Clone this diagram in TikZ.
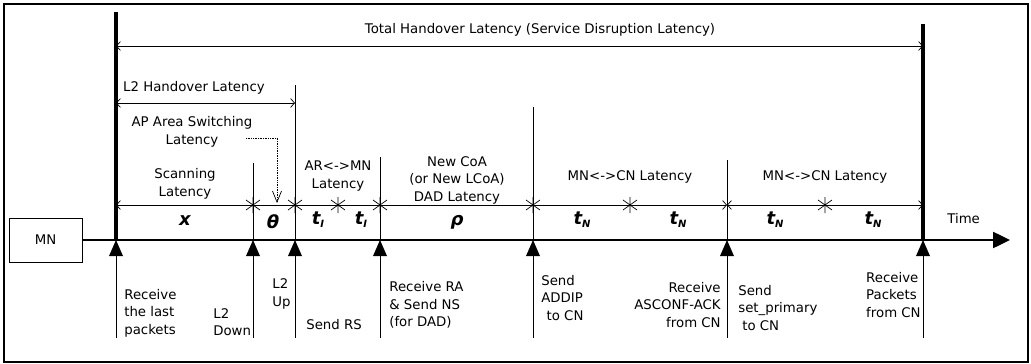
\documentclass[tikz,border=0pt]{standalone}
\usepackage{fontspec}
\setmainfont{DejaVu Sans}
\usetikzlibrary{arrows.meta}

% subscripted time variable
\newcommand{\tsub}[1]{t\raisebox{-3pt}{\fontsize{10}{10}\selectfont #1}}

\begin{document}
\begin{tikzpicture}[x=1pt,y=-1pt, line width=0.7pt,
  every node/.style={font=\fontsize{13.3}{17.5}\selectfont, inner sep=0pt},
  dim/.style={line width=0.7pt, {Straight Barb[length=4pt,width=9pt]}-{Straight Barb[length=4pt,width=9pt]}},
  var/.style={font=\fontsize{18}{18}\selectfont\bfseries\itshape},
  thickline/.style={line width=4pt}]
  \useasboundingbox (0,0) rectangle (1031,364);
  \draw[line width=1.2pt] (4,4) rectangle (1028,362);
  % MN box and the time axis
  \node[draw, line width=0.9pt, minimum width=73pt, minimum height=44pt] (mn) at (45.5,240) {MN};
  \coordinate (tend) at (1010,240);
  \draw[line width=2.5pt, -{Triangle[length=17pt,width=16pt]}] (mn.east) -- (tend);
  \node[anchor=west] (time) at (947,219) {Time};
  % events on the axis
  \foreach \n/\x in {a/116,b/253,c/295,d/380,e/533,f/727,g/923} {
    \coordinate (\n) at (\x,240);
    \coordinate (\n d) at (\x,205);
    \fill (\n) -- ++(-7,16) -- ++(14,0) -- cycle;
    \draw (\n) ++(0,16) -- ++(0,82);
  }
  \draw[thickline] (a) -- (a |- 0,12);
  \draw[thickline] (g) -- (g |- 0,24);
  \foreach \n/\y in {b/163,c/85,d/157,e/107,f/160} \draw (\n) -- (\n |- 0,\y);
  % latency row
  \draw[dim] (ad) -- (fd);
  \draw[dim] (fd) -- (gd);
  \foreach \p in {(bd),(cd),(dd),(ed),(338,205),(630,205),(825,205)}
    \draw \p ++(0,-8) -- ++(0,16) \p ++(-7,-5) -- ++(14,10) \p ++(-7,5) -- ++(14,-10);
  \node[var] (vx) at (185,221) {x};
  \node[var] (vth) at (273,222) {θ};
  \node[var] (vt1) at (318,220) {\tsub{I}};
  \node[var] (vt2) at (361,220) {\tsub{I}};
  \node[var] (vrho) at (457,222) {ρ};
  \foreach \x/\m in {582/n1,678/n2,775/n3,873/n4} \node[var] (\m) at (\x,220) {\tsub{N}};
  % latency names
  \node[align=center] (scan) at (185,184) {Scanning\\Latency};
  \node[align=center] (armn) at (338,176) {AR<->MN\\Latency};
  \node[align=center] (dad) at (457,180) {New CoA\\(or New LCoA)\\DAD Latency};
  \node (mncn1) at (630,177) {MN<->CN Latency};
  \node (mncn2) at (825,177) {MN<->CN Latency};
  \node[align=center] (apsw) at (192,132) {AP Area Switching\\Latency};
  \coordinate (apend) at (277,203);
  \draw[densely dotted, -{Straight Barb[length=11pt,width=9pt]}] (246,138) -| (apend);
  \node (l2h) at (194,88) {L2 Handover Latency};
  \draw[dim] (a |- 0,103) -- (c |- 0,103);
  \node (total) at (540,30) {Total Handover Latency (Service Disruption Latency)};
  \draw[dim] (a |- 0,46) -- (g |- 0,46);
  % event names
  \node[align=left, anchor=west] (ev1) at (124,313) {Receive\\the last\\packets};
  \node[align=left, anchor=west] (ev2) at (213,322) {L2\\Down};
  \node[align=left, anchor=east] (ev3) at (291,294) {L2\\Up};
  \node[anchor=west] (ev4) at (306,325) {Send RS};
  \node[align=left, anchor=west] (ev5) at (389,305) {Receive RA\\\& Send NS\\(for DAD)};
  \node[align=left, anchor=west] (ev6) at (541,298) {Send\\ADDIP\\\hspace*{0.4em}to CN};
  \node[align=right, anchor=east] (ev7) at (721,305) {Receive\\ASCONF-ACK\\from CN};
  \node[align=left, anchor=west] (ev8) at (738,308) {Send\\set\_primary\\\hspace*{0.3em}to CN};
  \node[align=left, anchor=east] (ev9) at (921,295) {Receive\\Packets\\from CN};
\end{tikzpicture}
\end{document}
